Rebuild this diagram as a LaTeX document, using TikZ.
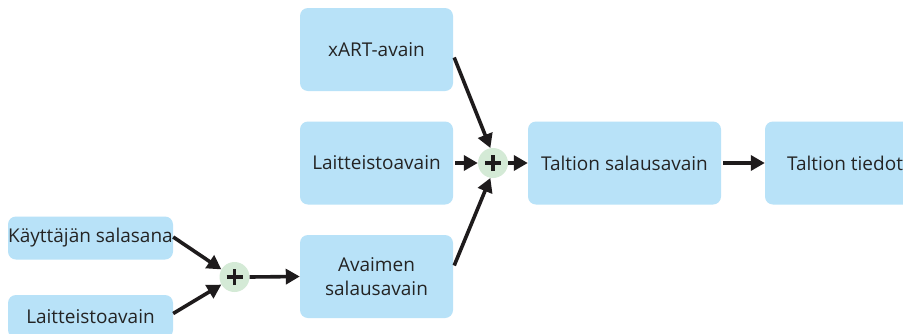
\documentclass[tikz,border=0pt]{standalone}
\usepackage{fontspec}
\setmainfont{Open Sans}
\usetikzlibrary{arrows.meta}
\definecolor{boxblue}{HTML}{B8E2F8}
\definecolor{sumgreen}{HTML}{D4EAD6}
\definecolor{ink}{HTML}{1E1B1C}
\definecolor{txt}{HTML}{242424}
\begin{document}
\begin{tikzpicture}[x=1pt,y=-1pt,
  keybox/.style={fill=boxblue, rounded corners=8pt, draw=none, text=txt,
    font=\fontsize{19}{24}\selectfont, align=center, inner sep=0pt},
  bigbox/.style={keybox, minimum width=153pt, minimum height=83pt},
  smallbox/.style={keybox, minimum width=165pt, minimum height=43pt},
  sumnode/.style={circle, fill=sumgreen, minimum size=30pt, inner sep=0pt,
    path picture={
      \draw[ink, line width=3.6pt]
        ([xshift=-8pt]path picture bounding box.center) -- ([xshift=8pt]path picture bounding box.center)
        ([yshift=-8pt]path picture bounding box.center) -- ([yshift=8pt]path picture bounding box.center);
    }},
  flow/.style={draw=ink, line width=3.6pt, -{Triangle[length=14pt,width=15pt]}}
]
\clip (0,0) rectangle (903,333);
\fill[white] (0,0) rectangle (903,333);

% key sources
\node[bigbox] (xart) at (376.5,49.5) {xART-avain};
\node[bigbox] (hwmid) at (376.5,163) {Laitteistoavain};
\node[bigbox] (kek) at (376.5,276.5) {Avaimen\\salausavain};
\node[smallbox] (pass) at (90.5,238) {Käyttäjän salasana};
\node[smallbox] (hwlow) at (90.5,316.5) {Laitteistoavain};

% combiners
\node[sumnode] (sumlow) at (234.5,277) {};
\node[sumnode] (sumtop) at (493,163) {};

% derived keys
\node[keybox, minimum width=193pt, minimum height=83pt] (vek) at (624.5,163) {Taltion salausavain};
\node[keybox, minimum width=160pt, minimum height=83pt] (data) at (845,163) {Taltion tiedot};

% connectors
\draw[flow] (pass.east) ++(0,-1) -- (sumlow.150);
\draw[flow] (hwlow.east) ++(0,-3) -- (sumlow.210);
\draw[flow] (sumlow.east) -- (kek.west);
\draw[flow] (xart.east) ++(1,8) -- (sumtop.100);
\draw[flow] (hwmid.east) ++(2,0) -- (sumtop.west);
\draw[flow] (kek.east) ++(1,-11) -- (sumtop.260);
\draw[flow] (sumtop.east) -- (vek.west);
\draw[flow] (vek.east) ++(2,0) -- (data.west);
\end{tikzpicture}
\end{document}
